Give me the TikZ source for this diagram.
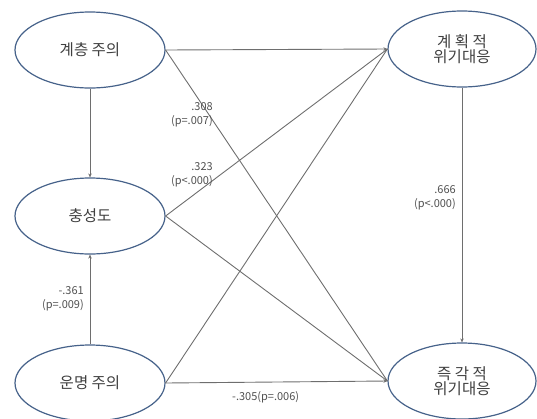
\documentclass[tikz,border=0pt]{standalone}
\usepackage{fontspec}
\setmainfont{Noto Sans CJK KR}
\usetikzlibrary{shapes.geometric,arrows.meta}
\definecolor{ellc}{RGB}{70,98,138}
\definecolor{linec}{RGB}{110,110,110}
\definecolor{labc}{RGB}{80,80,80}
\begin{document}
\begin{tikzpicture}[x=1pt,y=-1pt,
  var/.style={ellipse,draw=ellc,line width=1.2pt,fill=white,minimum width=150pt,minimum height=76pt,inner sep=0pt,font=\fontsize{15.5}{17}\selectfont,text=black!75,align=center},
  conn/.style={draw=linec,line width=0.9pt},
  arr/.style={conn,-{Stealth[length=4pt,width=3.5pt]}},
  lab/.style={font=\fontsize{11}{13.5}\selectfont,text=labc,align=right,inner sep=0pt}]
\useasboundingbox (0,0) rectangle (537,418);
\node[var] (gc) at (90,50) {계층 주의};
\node[var] (cs) at (90,216) {충성도};
\node[var] (um) at (90,383) {운명 주의};
\node[var,minimum width=148pt] (gh) at (462,49) {계 획 적\\[-2pt]위기대응};
\node[var,minimum width=148pt] (jg) at (462,381) {즉 각 적\\[-2pt]위기대응};
\draw[arr] (gc.east) -- (gh.west);
\draw[conn] (gc.east) -- (jg.west);
\draw[conn] (cs.east) -- (gh.west);
\draw[conn] (cs.east) -- (jg.west);
\draw[conn] (um.east) -- (gh.west);
\draw[arr] (um.east) -- (jg.west);
\draw[arr] (gc.south) -- (cs.north);
\draw[arr] (um.north) -- (cs.south);
\draw[arr] (gh.south) -- (jg.north);
\node[lab,anchor=east] (l1) at (213,115) {.308\\(p=.007)};
\node[lab,anchor=east] (l2) at (213,175) {.323\\(p<.000)};
\node[lab,anchor=east] (l3) at (456,198) {.666\\(p<.000)};
\node[lab,anchor=east] (l4) at (84,299) {-.361\\(p=.009)};
\node[lab,anchor=west] (l5) at (232,397) {-.305(p=.006)};
\end{tikzpicture}
\end{document}
